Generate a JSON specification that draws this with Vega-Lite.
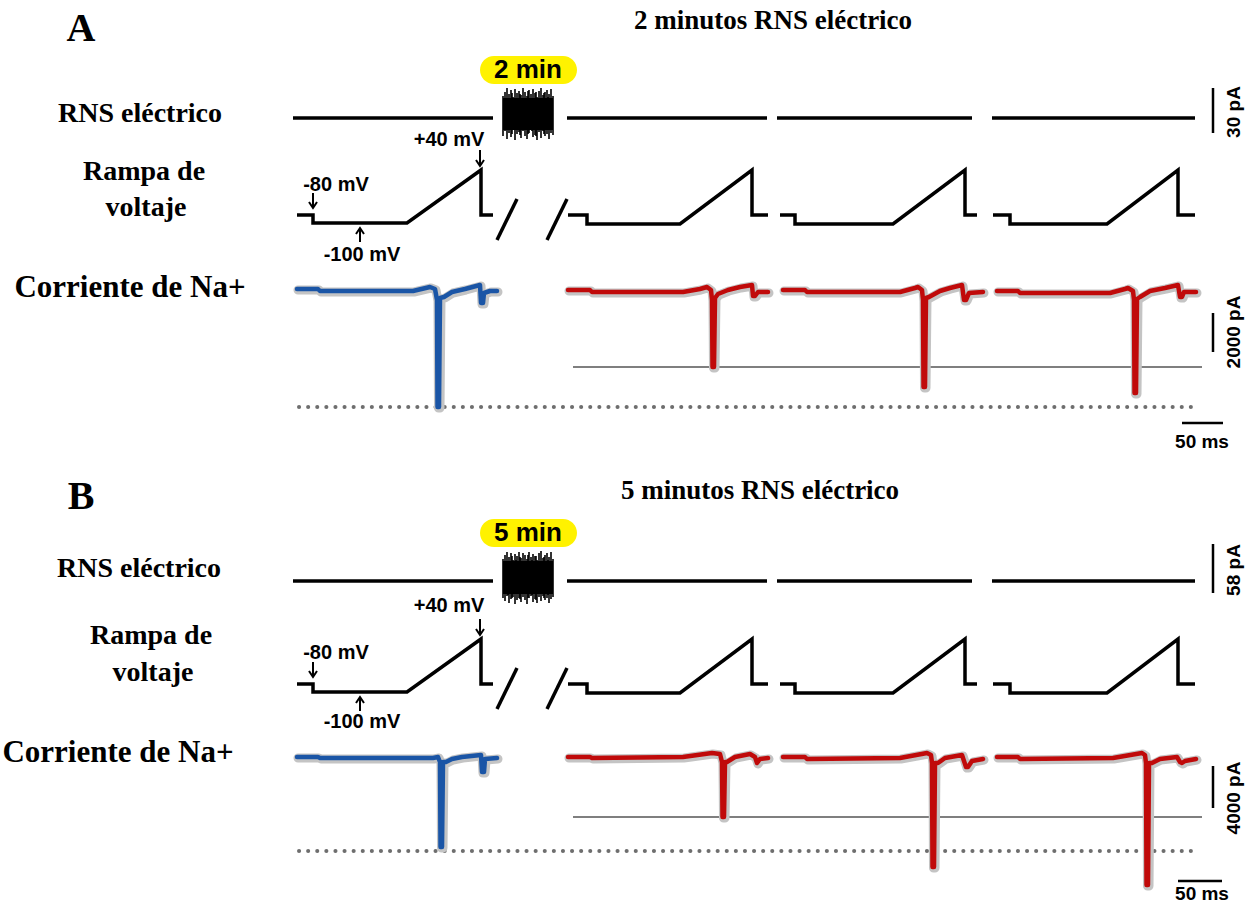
{
  "$schema": "https://vega.github.io/schema/vega-lite/v6.json",
  "width": 1259,
  "height": 905,
  "autosize": {"type": "fit", "contains": "padding"},
  "padding": 0,
  "background": "white",
  "config": {"view": {"stroke": null}},
  "datasets": {
    "rns": [
      {"x": 293, "x2": 493, "y": 118}, {"x": 567, "x2": 767, "y": 118}, {"x": 777, "x2": 972, "y": 118}, {"x": 992, "x2": 1195, "y": 118},
      {"x": 293, "x2": 493, "y": 581}, {"x": 567, "x2": 767, "y": 581}, {"x": 777, "x2": 972, "y": 581}, {"x": 992, "x2": 1195, "y": 581}
    ],
    "core": [
      {"x": 503, "x2": 553, "y": 98, "y2": 130},
      {"x": 503, "x2": 553, "y": 561, "y2": 594}
    ],
    "noise": [
      {"x": 503, "y": 96, "y2": 136}, {"x": 505, "y": 92, "y2": 131}, {"x": 507, "y": 88, "y2": 139}, {"x": 509, "y": 94, "y2": 133},
      {"x": 511, "y": 90, "y2": 137}, {"x": 513, "y": 97, "y2": 130}, {"x": 515, "y": 89, "y2": 140}, {"x": 517, "y": 93, "y2": 134},
      {"x": 519, "y": 91, "y2": 132}, {"x": 521, "y": 95, "y2": 138}, {"x": 523, "y": 88, "y2": 131}, {"x": 525, "y": 92, "y2": 136},
      {"x": 527, "y": 96, "y2": 139}, {"x": 529, "y": 90, "y2": 133}, {"x": 531, "y": 94, "y2": 130}, {"x": 533, "y": 89, "y2": 137},
      {"x": 535, "y": 93, "y2": 135}, {"x": 537, "y": 97, "y2": 140}, {"x": 539, "y": 91, "y2": 132}, {"x": 541, "y": 88, "y2": 138},
      {"x": 543, "y": 95, "y2": 131}, {"x": 545, "y": 92, "y2": 136}, {"x": 547, "y": 90, "y2": 134}, {"x": 549, "y": 94, "y2": 139},
      {"x": 551, "y": 89, "y2": 133}, {"x": 553, "y": 96, "y2": 135},
      {"x": 504, "y": 99, "y2": 128}, {"x": 508, "y": 100, "y2": 127}, {"x": 512, "y": 93, "y2": 134}, {"x": 516, "y": 98, "y2": 129},
      {"x": 520, "y": 94, "y2": 135}, {"x": 524, "y": 99, "y2": 128}, {"x": 528, "y": 91, "y2": 134}, {"x": 532, "y": 98, "y2": 131},
      {"x": 536, "y": 92, "y2": 136}, {"x": 540, "y": 99, "y2": 129}, {"x": 544, "y": 93, "y2": 134}, {"x": 548, "y": 97, "y2": 130},
      {"x": 503, "y": 559, "y2": 598}, {"x": 505, "y": 555, "y2": 601}, {"x": 507, "y": 552, "y2": 596}, {"x": 509, "y": 557, "y2": 603},
      {"x": 511, "y": 553, "y2": 599}, {"x": 513, "y": 560, "y2": 597}, {"x": 515, "y": 554, "y2": 604}, {"x": 517, "y": 556, "y2": 600},
      {"x": 519, "y": 552, "y2": 598}, {"x": 521, "y": 558, "y2": 602}, {"x": 523, "y": 553, "y2": 597}, {"x": 525, "y": 555, "y2": 600},
      {"x": 527, "y": 559, "y2": 604}, {"x": 529, "y": 552, "y2": 598}, {"x": 531, "y": 557, "y2": 596}, {"x": 533, "y": 554, "y2": 602},
      {"x": 535, "y": 556, "y2": 599}, {"x": 537, "y": 560, "y2": 603}, {"x": 539, "y": 553, "y2": 597}, {"x": 541, "y": 551, "y2": 601},
      {"x": 543, "y": 558, "y2": 596}, {"x": 545, "y": 555, "y2": 600}, {"x": 547, "y": 553, "y2": 598}, {"x": 549, "y": 557, "y2": 603},
      {"x": 551, "y": 552, "y2": 599}, {"x": 553, "y": 559, "y2": 597},
      {"x": 504, "y": 562, "y2": 593}, {"x": 508, "y": 561, "y2": 595}, {"x": 512, "y": 556, "y2": 598}, {"x": 516, "y": 560, "y2": 594},
      {"x": 520, "y": 557, "y2": 599}, {"x": 524, "y": 561, "y2": 593}, {"x": 528, "y": 555, "y2": 598}, {"x": 532, "y": 560, "y2": 595},
      {"x": 536, "y": 556, "y2": 600}, {"x": 540, "y": 562, "y2": 594}, {"x": 544, "y": 557, "y2": 598}, {"x": 548, "y": 560, "y2": 595}
    ],
    "pills": [
      {"x": 480, "x2": 577, "y": 56, "y2": 84, "t": "2 min", "tx": 528, "ty": 70},
      {"x": 480, "x2": 577, "y": 519, "y2": 547, "t": "5 min", "tx": 528, "ty": 533}
    ],
    "volt": [
      {"s": "a1", "x": 297, "y": 215}, {"s": "a1", "x": 313, "y": 215}, {"s": "a1", "x": 313, "y": 223}, {"s": "a1", "x": 407, "y": 223}, {"s": "a1", "x": 481, "y": 170}, {"s": "a1", "x": 481, "y": 215}, {"s": "a1", "x": 493, "y": 215},
      {"s": "a2", "x": 568, "y": 215}, {"s": "a2", "x": 587, "y": 215}, {"s": "a2", "x": 587, "y": 224}, {"s": "a2", "x": 680, "y": 224}, {"s": "a2", "x": 752, "y": 170}, {"s": "a2", "x": 752, "y": 215}, {"s": "a2", "x": 768, "y": 215},
      {"s": "a3", "x": 780, "y": 215}, {"s": "a3", "x": 795, "y": 215}, {"s": "a3", "x": 795, "y": 224}, {"s": "a3", "x": 893, "y": 224}, {"s": "a3", "x": 965, "y": 170}, {"s": "a3", "x": 965, "y": 215}, {"s": "a3", "x": 977, "y": 215},
      {"s": "a4", "x": 993, "y": 215}, {"s": "a4", "x": 1010, "y": 215}, {"s": "a4", "x": 1010, "y": 224}, {"s": "a4", "x": 1107, "y": 224}, {"s": "a4", "x": 1178, "y": 170}, {"s": "a4", "x": 1178, "y": 215}, {"s": "a4", "x": 1195, "y": 215},
      {"s": "a5", "x": 497, "y": 240}, {"s": "a5", "x": 517, "y": 199},
      {"s": "a6", "x": 547, "y": 240}, {"s": "a6", "x": 567, "y": 199},
      {"s": "b1", "x": 297, "y": 684}, {"s": "b1", "x": 313, "y": 684}, {"s": "b1", "x": 313, "y": 692}, {"s": "b1", "x": 407, "y": 692}, {"s": "b1", "x": 481, "y": 639}, {"s": "b1", "x": 481, "y": 684}, {"s": "b1", "x": 493, "y": 684},
      {"s": "b2", "x": 568, "y": 684}, {"s": "b2", "x": 587, "y": 684}, {"s": "b2", "x": 587, "y": 693}, {"s": "b2", "x": 680, "y": 693}, {"s": "b2", "x": 752, "y": 639}, {"s": "b2", "x": 752, "y": 684}, {"s": "b2", "x": 768, "y": 684},
      {"s": "b3", "x": 780, "y": 684}, {"s": "b3", "x": 795, "y": 684}, {"s": "b3", "x": 795, "y": 693}, {"s": "b3", "x": 893, "y": 693}, {"s": "b3", "x": 965, "y": 639}, {"s": "b3", "x": 965, "y": 684}, {"s": "b3", "x": 977, "y": 684},
      {"s": "b4", "x": 993, "y": 684}, {"s": "b4", "x": 1010, "y": 684}, {"s": "b4", "x": 1010, "y": 693}, {"s": "b4", "x": 1107, "y": 693}, {"s": "b4", "x": 1178, "y": 639}, {"s": "b4", "x": 1178, "y": 684}, {"s": "b4", "x": 1195, "y": 684},
      {"s": "b5", "x": 497, "y": 709}, {"s": "b5", "x": 517, "y": 668},
      {"s": "b6", "x": 547, "y": 709}, {"s": "b6", "x": 567, "y": 668}
    ],
    "arrows": [
      {"s": "p1", "x": 313, "y": 193}, {"s": "p1", "x": 313, "y": 208},
      {"s": "p2", "x": 309, "y": 202}, {"s": "p2", "x": 313, "y": 208}, {"s": "p2", "x": 317, "y": 202},
      {"s": "p3", "x": 480, "y": 150}, {"s": "p3", "x": 480, "y": 166},
      {"s": "p4", "x": 476, "y": 160}, {"s": "p4", "x": 480, "y": 166}, {"s": "p4", "x": 484, "y": 160},
      {"s": "p5", "x": 360, "y": 242}, {"s": "p5", "x": 360, "y": 228},
      {"s": "p6", "x": 356, "y": 234}, {"s": "p6", "x": 360, "y": 228}, {"s": "p6", "x": 364, "y": 234},
      {"s": "q1", "x": 313, "y": 662}, {"s": "q1", "x": 313, "y": 677},
      {"s": "q2", "x": 309, "y": 671}, {"s": "q2", "x": 313, "y": 677}, {"s": "q2", "x": 317, "y": 671},
      {"s": "q3", "x": 480, "y": 619}, {"s": "q3", "x": 480, "y": 635},
      {"s": "q4", "x": 476, "y": 629}, {"s": "q4", "x": 480, "y": 635}, {"s": "q4", "x": 484, "y": 629},
      {"s": "q5", "x": 360, "y": 711}, {"s": "q5", "x": 360, "y": 697},
      {"s": "q6", "x": 356, "y": 703}, {"s": "q6", "x": 360, "y": 697}, {"s": "q6", "x": 364, "y": 703}
    ],
    "current": [
      {"s": "A1", "c": "ctrl", "x": 297, "y": 289}, {"s": "A1", "c": "ctrl", "x": 318, "y": 289}, {"s": "A1", "c": "ctrl", "x": 320, "y": 291}, {"s": "A1", "c": "ctrl", "x": 413, "y": 291}, {"s": "A1", "c": "ctrl", "x": 430, "y": 287}, {"s": "A1", "c": "ctrl", "x": 435, "y": 289}, {"s": "A1", "c": "ctrl", "x": 437, "y": 300}, {"s": "A1", "c": "ctrl", "x": 437.5, "y": 407}, {"s": "A1", "c": "ctrl", "x": 439, "y": 407}, {"s": "A1", "c": "ctrl", "x": 440, "y": 298}, {"s": "A1", "c": "ctrl", "x": 444, "y": 297}, {"s": "A1", "c": "ctrl", "x": 452, "y": 292}, {"s": "A1", "c": "ctrl", "x": 465, "y": 289}, {"s": "A1", "c": "ctrl", "x": 480, "y": 285}, {"s": "A1", "c": "ctrl", "x": 481, "y": 303}, {"s": "A1", "c": "ctrl", "x": 483, "y": 303}, {"s": "A1", "c": "ctrl", "x": 484, "y": 293}, {"s": "A1", "c": "ctrl", "x": 490, "y": 291}, {"s": "A1", "c": "ctrl", "x": 497, "y": 291},
      {"s": "A2", "c": "rns", "x": 568, "y": 290}, {"s": "A2", "c": "rns", "x": 590, "y": 290}, {"s": "A2", "c": "rns", "x": 592, "y": 292}, {"s": "A2", "c": "rns", "x": 683, "y": 292}, {"s": "A2", "c": "rns", "x": 700, "y": 289}, {"s": "A2", "c": "rns", "x": 707, "y": 287}, {"s": "A2", "c": "rns", "x": 711, "y": 290}, {"s": "A2", "c": "rns", "x": 712, "y": 300}, {"s": "A2", "c": "rns", "x": 712.5, "y": 367}, {"s": "A2", "c": "rns", "x": 714, "y": 367}, {"s": "A2", "c": "rns", "x": 715, "y": 298}, {"s": "A2", "c": "rns", "x": 718, "y": 294}, {"s": "A2", "c": "rns", "x": 728, "y": 290}, {"s": "A2", "c": "rns", "x": 740, "y": 287}, {"s": "A2", "c": "rns", "x": 752, "y": 285}, {"s": "A2", "c": "rns", "x": 753, "y": 296}, {"s": "A2", "c": "rns", "x": 755, "y": 296}, {"s": "A2", "c": "rns", "x": 758, "y": 292}, {"s": "A2", "c": "rns", "x": 768, "y": 292},
      {"s": "A3", "c": "rns", "x": 783, "y": 290}, {"s": "A3", "c": "rns", "x": 805, "y": 290}, {"s": "A3", "c": "rns", "x": 807, "y": 292}, {"s": "A3", "c": "rns", "x": 900, "y": 292}, {"s": "A3", "c": "rns", "x": 915, "y": 288}, {"s": "A3", "c": "rns", "x": 918, "y": 287}, {"s": "A3", "c": "rns", "x": 922, "y": 290}, {"s": "A3", "c": "rns", "x": 923, "y": 300}, {"s": "A3", "c": "rns", "x": 923.5, "y": 387}, {"s": "A3", "c": "rns", "x": 925, "y": 387}, {"s": "A3", "c": "rns", "x": 926, "y": 298}, {"s": "A3", "c": "rns", "x": 929, "y": 297}, {"s": "A3", "c": "rns", "x": 940, "y": 291}, {"s": "A3", "c": "rns", "x": 950, "y": 288}, {"s": "A3", "c": "rns", "x": 962, "y": 285}, {"s": "A3", "c": "rns", "x": 964, "y": 300}, {"s": "A3", "c": "rns", "x": 966, "y": 300}, {"s": "A3", "c": "rns", "x": 969, "y": 293}, {"s": "A3", "c": "rns", "x": 983, "y": 292},
      {"s": "A4", "c": "rns", "x": 997, "y": 291}, {"s": "A4", "c": "rns", "x": 1018, "y": 291}, {"s": "A4", "c": "rns", "x": 1020, "y": 293}, {"s": "A4", "c": "rns", "x": 1110, "y": 293}, {"s": "A4", "c": "rns", "x": 1125, "y": 289}, {"s": "A4", "c": "rns", "x": 1128, "y": 288}, {"s": "A4", "c": "rns", "x": 1133, "y": 291}, {"s": "A4", "c": "rns", "x": 1134, "y": 300}, {"s": "A4", "c": "rns", "x": 1134.5, "y": 393}, {"s": "A4", "c": "rns", "x": 1136, "y": 393}, {"s": "A4", "c": "rns", "x": 1137, "y": 299}, {"s": "A4", "c": "rns", "x": 1140, "y": 297}, {"s": "A4", "c": "rns", "x": 1150, "y": 291}, {"s": "A4", "c": "rns", "x": 1165, "y": 288}, {"s": "A4", "c": "rns", "x": 1178, "y": 285}, {"s": "A4", "c": "rns", "x": 1180, "y": 297}, {"s": "A4", "c": "rns", "x": 1182, "y": 297}, {"s": "A4", "c": "rns", "x": 1184, "y": 292}, {"s": "A4", "c": "rns", "x": 1196, "y": 292},
      {"s": "B1", "c": "ctrl", "x": 297, "y": 757}, {"s": "B1", "c": "ctrl", "x": 318, "y": 757}, {"s": "B1", "c": "ctrl", "x": 320, "y": 758}, {"s": "B1", "c": "ctrl", "x": 433, "y": 758}, {"s": "B1", "c": "ctrl", "x": 438, "y": 757}, {"s": "B1", "c": "ctrl", "x": 440, "y": 762}, {"s": "B1", "c": "ctrl", "x": 440.5, "y": 847}, {"s": "B1", "c": "ctrl", "x": 442, "y": 847}, {"s": "B1", "c": "ctrl", "x": 443, "y": 762}, {"s": "B1", "c": "ctrl", "x": 446, "y": 762}, {"s": "B1", "c": "ctrl", "x": 452, "y": 759}, {"s": "B1", "c": "ctrl", "x": 462, "y": 757}, {"s": "B1", "c": "ctrl", "x": 481, "y": 755}, {"s": "B1", "c": "ctrl", "x": 482, "y": 772}, {"s": "B1", "c": "ctrl", "x": 484, "y": 772}, {"s": "B1", "c": "ctrl", "x": 485, "y": 759}, {"s": "B1", "c": "ctrl", "x": 497, "y": 758},
      {"s": "B2", "c": "rns", "x": 568, "y": 757}, {"s": "B2", "c": "rns", "x": 590, "y": 757}, {"s": "B2", "c": "rns", "x": 592, "y": 758}, {"s": "B2", "c": "rns", "x": 683, "y": 757}, {"s": "B2", "c": "rns", "x": 712, "y": 753}, {"s": "B2", "c": "rns", "x": 720, "y": 754}, {"s": "B2", "c": "rns", "x": 722, "y": 762}, {"s": "B2", "c": "rns", "x": 722.5, "y": 817}, {"s": "B2", "c": "rns", "x": 724, "y": 817}, {"s": "B2", "c": "rns", "x": 725, "y": 762}, {"s": "B2", "c": "rns", "x": 727, "y": 762}, {"s": "B2", "c": "rns", "x": 735, "y": 757}, {"s": "B2", "c": "rns", "x": 750, "y": 754}, {"s": "B2", "c": "rns", "x": 755, "y": 757}, {"s": "B2", "c": "rns", "x": 757, "y": 763}, {"s": "B2", "c": "rns", "x": 760, "y": 759}, {"s": "B2", "c": "rns", "x": 768, "y": 758},
      {"s": "B3", "c": "rns", "x": 783, "y": 757}, {"s": "B3", "c": "rns", "x": 805, "y": 757}, {"s": "B3", "c": "rns", "x": 807, "y": 759}, {"s": "B3", "c": "rns", "x": 900, "y": 758}, {"s": "B3", "c": "rns", "x": 927, "y": 753}, {"s": "B3", "c": "rns", "x": 931, "y": 755}, {"s": "B3", "c": "rns", "x": 932, "y": 763}, {"s": "B3", "c": "rns", "x": 932.5, "y": 867}, {"s": "B3", "c": "rns", "x": 934, "y": 867}, {"s": "B3", "c": "rns", "x": 935, "y": 763}, {"s": "B3", "c": "rns", "x": 938, "y": 763}, {"s": "B3", "c": "rns", "x": 945, "y": 758}, {"s": "B3", "c": "rns", "x": 962, "y": 755}, {"s": "B3", "c": "rns", "x": 966, "y": 767}, {"s": "B3", "c": "rns", "x": 968, "y": 767}, {"s": "B3", "c": "rns", "x": 972, "y": 761}, {"s": "B3", "c": "rns", "x": 983, "y": 759},
      {"s": "B4", "c": "rns", "x": 997, "y": 757}, {"s": "B4", "c": "rns", "x": 1018, "y": 757}, {"s": "B4", "c": "rns", "x": 1020, "y": 759}, {"s": "B4", "c": "rns", "x": 1113, "y": 758}, {"s": "B4", "c": "rns", "x": 1142, "y": 753}, {"s": "B4", "c": "rns", "x": 1145, "y": 755}, {"s": "B4", "c": "rns", "x": 1146, "y": 763}, {"s": "B4", "c": "rns", "x": 1146.5, "y": 885}, {"s": "B4", "c": "rns", "x": 1148, "y": 885}, {"s": "B4", "c": "rns", "x": 1149, "y": 763}, {"s": "B4", "c": "rns", "x": 1152, "y": 763}, {"s": "B4", "c": "rns", "x": 1160, "y": 759}, {"s": "B4", "c": "rns", "x": 1177, "y": 757}, {"s": "B4", "c": "rns", "x": 1180, "y": 762}, {"s": "B4", "c": "rns", "x": 1182, "y": 763}, {"s": "B4", "c": "rns", "x": 1185, "y": 761}, {"s": "B4", "c": "rns", "x": 1196, "y": 759}
    ],
    "dotted": [
      {"x": 299, "x2": 1192, "y": 407},
      {"x": 299, "x2": 1192, "y": 851}
    ],
    "ref": [
      {"x": 573, "x2": 1202, "y": 367},
      {"x": 573, "x2": 1202, "y": 817}
    ],
    "vbars": [
      {"x": 1213, "y": 88, "y2": 133},
      {"x": 1213, "y": 313, "y2": 352},
      {"x": 1213, "y": 544, "y2": 593},
      {"x": 1213, "y": 766, "y2": 808}
    ],
    "hbars": [
      {"x": 1182, "x2": 1223, "y": 423},
      {"x": 1178, "x2": 1222, "y": 881}
    ],
    "bigletters": [
      {"x": 81, "y": 29, "t": "A"},
      {"x": 81, "y": 497, "t": "B"}
    ],
    "titles": [
      {"x": 773, "y": 21, "t": "2 minutos RNS eléctrico"},
      {"x": 760, "y": 491, "t": "5 minutos RNS eléctrico"}
    ],
    "rowlabels": [
      {"x": 140, "y": 114, "t": "RNS eléctrico"},
      {"x": 144, "y": 172, "t": "Rampa de"},
      {"x": 146, "y": 208, "t": "voltaje"},
      {"x": 139, "y": 569, "t": "RNS eléctrico"},
      {"x": 151, "y": 636, "t": "Rampa de"},
      {"x": 153, "y": 673, "t": "voltaje"}
    ],
    "curlabels": [
      {"x": 130, "y": 288, "t": "Corriente de Na+"},
      {"x": 118, "y": 753, "t": "Corriente de Na+"}
    ],
    "mv": [
      {"x": 449, "y": 140, "t": "+40 mV"},
      {"x": 336, "y": 185, "t": "-80 mV"},
      {"x": 362, "y": 255, "t": "-100 mV"},
      {"x": 449, "y": 606, "t": "+40 mV"},
      {"x": 336, "y": 653, "t": "-80 mV"},
      {"x": 362, "y": 722, "t": "-100 mV"}
    ],
    "scaletxt": [
      {"x": 1234, "y": 112, "t": "30 pA"},
      {"x": 1234, "y": 332, "t": "2000 pA"},
      {"x": 1234, "y": 570, "t": "58 pA"},
      {"x": 1234, "y": 798, "t": "4000 pA"}
    ],
    "mstxt": [
      {"x": 1202, "y": 442, "t": "50 ms"},
      {"x": 1202, "y": 894, "t": "50 ms"}
    ]
  },
  "encoding": {
    "x": {"field": "x", "type": "quantitative", "scale": {"domain": [0, 1259], "nice": false, "zero": false}, "axis": null},
    "y": {"field": "y", "type": "quantitative", "scale": {"domain": [0, 905], "reverse": true, "nice": false, "zero": false}, "axis": null}
  },
  "layer": [
    {"data": {"name": "pills"}, "mark": {"type": "rect", "fill": "#fff200", "cornerRadius": 14}, "encoding": {"x2": {"field": "x2"}, "y2": {"field": "y2"}}},
    {"data": {"name": "pills"}, "mark": {"type": "text", "font": "Liberation Sans", "fontWeight": "bold", "fontSize": 26, "align": "center", "baseline": "middle", "color": "black"}, "encoding": {"x": {"field": "tx", "type": "quantitative"}, "y": {"field": "ty", "type": "quantitative"}, "text": {"field": "t"}}},
    {"data": {"name": "rns"}, "mark": {"type": "rule", "color": "black", "strokeWidth": 3.5}, "encoding": {"x2": {"field": "x2"}}},
    {"data": {"name": "core"}, "mark": {"type": "rect", "fill": "black"}, "encoding": {"x2": {"field": "x2"}, "y2": {"field": "y2"}}},
    {"data": {"name": "noise"}, "mark": {"type": "rule", "color": "black", "strokeWidth": 1.6}, "encoding": {"y2": {"field": "y2"}}},
    {"data": {"name": "volt"}, "mark": {"type": "line", "color": "black", "strokeWidth": 3.5, "strokeJoin": "miter"}, "encoding": {"detail": {"field": "s"}, "order": {"value": null}}},
    {"data": {"name": "arrows"}, "mark": {"type": "line", "color": "black", "strokeWidth": 2}, "encoding": {"detail": {"field": "s"}, "order": {"value": null}}},
    {"data": {"name": "dotted"}, "mark": {"type": "rule", "color": "#6e6e6e", "strokeWidth": 4, "strokeCap": "round", "strokeDash": [0.1, 9]}, "encoding": {"x2": {"field": "x2"}}},
    {"data": {"name": "ref"}, "mark": {"type": "rule", "color": "#555555", "strokeWidth": 1.5}, "encoding": {"x2": {"field": "x2"}}},
    {"data": {"name": "current"}, "mark": {"type": "line", "color": "#c4c4c4", "strokeWidth": 9, "strokeJoin": "round", "strokeCap": "round", "xOffset": 1, "yOffset": 1}, "encoding": {"detail": {"field": "s"}, "order": {"value": null}}},
    {"data": {"name": "current"}, "mark": {"type": "line", "strokeWidth": 4.5, "strokeJoin": "round", "strokeCap": "round"}, "encoding": {"detail": {"field": "s"}, "order": {"value": null}, "color": {"field": "c", "type": "nominal", "scale": {"domain": ["ctrl", "rns"], "range": ["#1a55a6", "#c00a0a"]}, "legend": null}}},
    {"data": {"name": "vbars"}, "mark": {"type": "rule", "color": "black", "strokeWidth": 2.5}, "encoding": {"y2": {"field": "y2"}}},
    {"data": {"name": "hbars"}, "mark": {"type": "rule", "color": "black", "strokeWidth": 2.5}, "encoding": {"x2": {"field": "x2"}}},
    {"data": {"name": "bigletters"}, "mark": {"type": "text", "font": "Liberation Serif", "fontWeight": "bold", "fontSize": 40, "align": "center", "baseline": "middle", "color": "black"}, "encoding": {"text": {"field": "t"}}},
    {"data": {"name": "titles"}, "mark": {"type": "text", "font": "Liberation Serif", "fontWeight": "bold", "fontSize": 27, "align": "center", "baseline": "middle", "color": "black"}, "encoding": {"text": {"field": "t"}}},
    {"data": {"name": "rowlabels"}, "mark": {"type": "text", "font": "Liberation Serif", "fontWeight": "bold", "fontSize": 28, "align": "center", "baseline": "middle", "color": "black"}, "encoding": {"text": {"field": "t"}}},
    {"data": {"name": "curlabels"}, "mark": {"type": "text", "font": "Liberation Serif", "fontWeight": "bold", "fontSize": 31, "align": "center", "baseline": "middle", "color": "black"}, "encoding": {"text": {"field": "t"}}},
    {"data": {"name": "mv"}, "mark": {"type": "text", "font": "Liberation Sans", "fontWeight": "bold", "fontSize": 20, "align": "center", "baseline": "middle", "color": "black"}, "encoding": {"text": {"field": "t"}}},
    {"data": {"name": "scaletxt"}, "mark": {"type": "text", "font": "Liberation Sans", "fontWeight": "bold", "fontSize": 19, "align": "center", "baseline": "middle", "angle": 270, "color": "black"}, "encoding": {"text": {"field": "t"}}},
    {"data": {"name": "mstxt"}, "mark": {"type": "text", "font": "Liberation Sans", "fontWeight": "bold", "fontSize": 19, "align": "center", "baseline": "middle", "color": "black"}, "encoding": {"text": {"field": "t"}}}
  ]
}
